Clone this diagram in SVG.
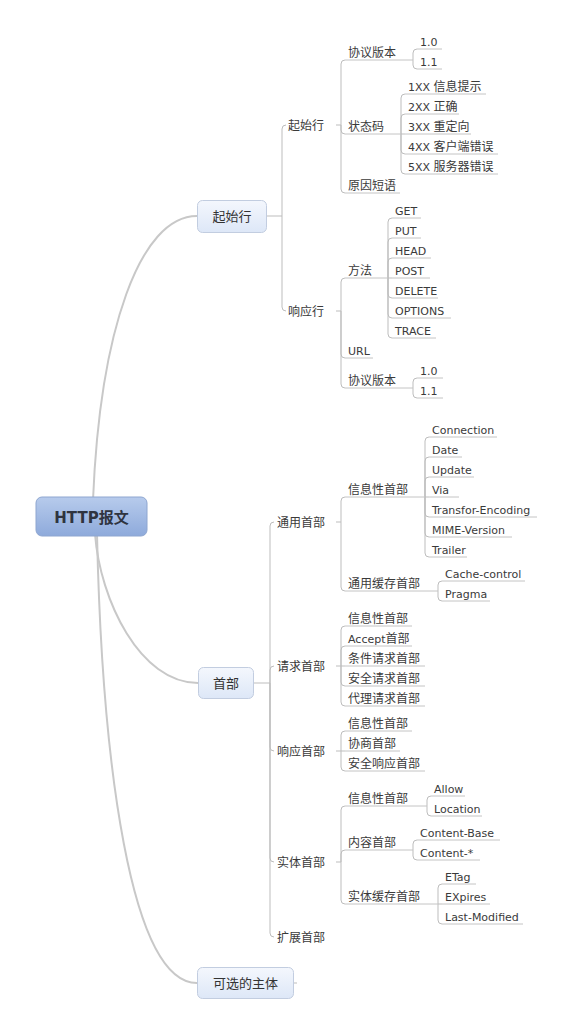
<svg xmlns="http://www.w3.org/2000/svg" width="571" height="1033" viewBox="0 0 571 1033">
<style>
text{font-family:"DejaVu Sans","Noto Sans CJK SC",sans-serif;fill:#3a3a3a}
.t{font-size:11px}
.c{font-size:12px}
.b{font-size:13px;text-anchor:middle;fill:#333}
.root{font-size:15px;font-weight:bold;text-anchor:middle;fill:#2f3440}
.main{fill:none;stroke:#c8c8c8;stroke-width:2}
.ln{fill:none;stroke:#bdbdbd;stroke-width:1}
.ul{fill:none;stroke:#c4c4c4;stroke-width:1}
.box{fill:url(#gb);stroke:#c2cde0;stroke-width:1}
</style>
<defs>
<linearGradient id="gr" x1="0" y1="0" x2="0" y2="1"><stop offset="0" stop-color="#b7cbec"/><stop offset="1" stop-color="#8eaadb"/></linearGradient>
<linearGradient id="gb" x1="0" y1="0" x2="0" y2="1"><stop offset="0" stop-color="#f4f7fd"/><stop offset="1" stop-color="#dde7f7"/></linearGradient>
</defs>
<rect width="571" height="1033" fill="#fff"/>
<g id="connectors">
<path class="main" d="M93 500 C100 330 140 216 197 216"/>
<path class="main" d="M95 534 C100 600 140 683 198 683"/>
<path class="main" d="M97 534 C102 760 130 983 197 983"/>
<path class="ln" d="M267 216 H282 M282 216 V129 Q282 125 286 125 M282 216 V307 Q282 311 286 311"/>
<path class="ln" d="M254 683 H270 M270 683 V526 Q270 522 274 522 M270 683 V670 Q270 666 274 666 M270 683 V747 Q270 751 274 751 M270 683 V858 Q270 862 274 862 M270 683 V933 Q270 937 274 937"/>
<path class="ln" d="M294 983 H297"/>
<path class="ln" d="M336 125 H341 M336 311 H341 M336 522 H341 M336 666 H341 M336 751 H341 M336 862 H341"/>
<path class="ln" d="M341 125 V64 Q341 60 345 60 M341 125 V130 Q341 134 345 134 M341 125 V189 Q341 193 345 193"/>
<path class="ln" d="M413 60 V53 Q413 49 417 49 M413 60 V65 Q413 69 417 69"/>
<path class="ln" d="M401 134 V98 Q401 94 405 94 M401 134 V118 Q401 114 405 114 M401 134 H405 M401 134 V150 Q401 154 405 154 M401 134 V170 Q401 174 405 174"/>
<path class="ln" d="M341 311 V282 Q341 278 345 278 M341 311 V354 Q341 358 345 358 M341 311 V384 Q341 388 345 388"/>
<path class="ln" d="M388 278 V222 Q388 218 392 218 M388 278 V242 Q388 238 392 238 M388 278 V262 Q388 258 392 258 M388 278 H392 M388 278 V294 Q388 298 392 298 M388 278 V314 Q388 318 392 318 M388 278 V334 Q388 338 392 338"/>
<path class="ln" d="M413 388 V382 Q413 378 417 378 M413 388 V394 Q413 398 417 398"/>
<path class="ln" d="M341 522 V501 Q341 497 345 497 M341 522 V587 Q341 591 345 591"/>
<path class="ln" d="M425 497 V441 Q425 437 429 437 M425 497 V461 Q425 457 429 457 M425 497 V481 Q425 477 429 477 M425 497 H429 M425 497 V513 Q425 517 429 517 M425 497 V533 Q425 537 429 537 M425 497 V553 Q425 557 429 557"/>
<path class="ln" d="M438 591 V585 Q438 581 442 581 M438 591 V597 Q438 601 442 601"/>
<path class="ln" d="M341 666 V630 Q341 626 345 626 M341 666 V650 Q341 646 345 646 M341 666 H345 M341 666 V682 Q341 686 345 686 M341 666 V702 Q341 706 345 706"/>
<path class="ln" d="M341 751 V735 Q341 731 345 731 M341 751 H345 M341 751 V767 Q341 771 345 771"/>
<path class="ln" d="M341 862 V810 Q341 806 345 806 M341 862 V854 Q341 850 345 850 M341 862 V900 Q341 904 345 904"/>
<path class="ln" d="M427 806 V800 Q427 796 431 796 M427 806 V812 Q427 816 431 816"/>
<path class="ln" d="M413 850 V844 Q413 840 417 840 M413 850 V856 Q413 860 417 860"/>
<path class="ln" d="M438 904 V888 Q438 884 442 884 M438 904 H442 M438 904 V920 Q438 924 442 924"/>
</g>
<g id="root"><rect x="36" y="497" width="111" height="39" rx="6" fill="url(#gr)" stroke="#8ea6d0"/><text class="root" x="91.5" y="522.5">HTTP报文</text></g>
<g id="n-qsh"><rect class="box" x="197.5" y="200.5" width="69" height="32" rx="5"/><text class="b" x="232" y="220.5">起始行</text></g>
<g id="n-sb"><rect class="box" x="198.5" y="667.5" width="55" height="31" rx="5"/><text class="b" x="226" y="687.5">首部</text></g>
<g id="n-kxzt"><rect class="box" x="197.5" y="967.5" width="96" height="31" rx="5"/><text class="b" x="245.5" y="987.5">可选的主体</text></g>

<g id="n-qsh2"><text class="c" x="288" y="129.5">起始行</text></g>
<g id="n-xyh"><text class="c" x="288" y="315.5">响应行</text></g>

<g id="n-xybb1"><path class="ul" d="M345 60 H413"/><text class="c" x="348" y="57">协议版本</text></g>
<g id="n-v10a"><path class="ul" d="M417 49 H442"/><text class="t" x="420" y="46">1.0</text></g>
<g id="n-v11a"><path class="ul" d="M417 69 H442"/><text class="t" x="420" y="66">1.1</text></g>
<g id="n-ztm"><path class="ul" d="M345 134 H401"/><text class="c" x="348" y="131">状态码</text></g>
<g id="n-1xx"><path class="ul" d="M405 94 H486"/><text class="t" x="408" y="91">1XX <tspan class="c">信息提示</tspan></text></g>
<g id="n-2xx"><path class="ul" d="M405 114 H459"/><text class="t" x="408" y="111">2XX <tspan class="c">正确</tspan></text></g>
<g id="n-3xx"><path class="ul" d="M405 134 H471"/><text class="t" x="408" y="131">3XX <tspan class="c">重定向</tspan></text></g>
<g id="n-4xx"><path class="ul" d="M405 154 H498"/><text class="t" x="408" y="151">4XX <tspan class="c">客户端错误</tspan></text></g>
<g id="n-5xx"><path class="ul" d="M405 174 H498"/><text class="t" x="408" y="171">5XX <tspan class="c">服务器错误</tspan></text></g>
<g id="n-yydy"><path class="ul" d="M345 193 H400"/><text class="c" x="348" y="190">原因短语</text></g>

<g id="n-ff"><path class="ul" d="M345 278 H388"/><text class="c" x="348" y="275">方法</text></g>
<g id="n-get"><path class="ul" d="M392 218 H421"/><text class="t" x="395" y="215">GET</text></g>
<g id="n-put"><path class="ul" d="M392 238 H421"/><text class="t" x="395" y="235">PUT</text></g>
<g id="n-head"><path class="ul" d="M392 258 H431"/><text class="t" x="395" y="255">HEAD</text></g>
<g id="n-post"><path class="ul" d="M392 278 H430"/><text class="t" x="395" y="275">POST</text></g>
<g id="n-delete"><path class="ul" d="M392 298 H438"/><text class="t" x="395" y="295">DELETE</text></g>
<g id="n-options"><path class="ul" d="M392 318 H451"/><text class="t" x="395" y="315">OPTIONS</text></g>
<g id="n-trace"><path class="ul" d="M392 338 H436"/><text class="t" x="395" y="335">TRACE</text></g>
<g id="n-url"><path class="ul" d="M345 358 H373"/><text class="t" x="348" y="355">URL</text></g>
<g id="n-xybb2"><path class="ul" d="M345 388 H413"/><text class="c" x="348" y="385">协议版本</text></g>
<g id="n-v10b"><path class="ul" d="M417 378 H443"/><text class="t" x="420" y="375">1.0</text></g>
<g id="n-v11b"><path class="ul" d="M417 398 H443"/><text class="t" x="420" y="395">1.1</text></g>

<g id="n-tysb"><text class="c" x="277" y="526.5">通用首部</text></g>
<g id="n-xxx1"><path class="ul" d="M345 497 H425"/><text class="c" x="348" y="494">信息性首部</text></g>
<g id="n-connection"><path class="ul" d="M429 437 H497"/><text class="t" x="432" y="434">Connection</text></g>
<g id="n-date"><path class="ul" d="M429 457 H462"/><text class="t" x="432" y="454">Date</text></g>
<g id="n-update"><path class="ul" d="M429 477 H474"/><text class="t" x="432" y="474">Update</text></g>
<g id="n-via"><path class="ul" d="M429 497 H459"/><text class="t" x="432" y="494">Via</text></g>
<g id="n-te"><path class="ul" d="M429 517 H537"/><text class="t" x="432" y="514">Transfor-Encoding</text></g>
<g id="n-mime"><path class="ul" d="M429 537 H512"/><text class="t" x="432" y="534">MIME-Version</text></g>
<g id="n-trailer"><path class="ul" d="M429 557 H467"/><text class="t" x="432" y="554">Trailer</text></g>
<g id="n-tyhc"><path class="ul" d="M345 591 H438"/><text class="c" x="348" y="588">通用缓存首部</text></g>
<g id="n-cc"><path class="ul" d="M442 581 H525"/><text class="t" x="445" y="578">Cache-control</text></g>
<g id="n-pragma"><path class="ul" d="M442 601 H490"/><text class="t" x="445" y="598">Pragma</text></g>

<g id="n-qqsb"><text class="c" x="277" y="670.5">请求首部</text></g>
<g id="n-xxx2"><path class="ul" d="M345 626 H412"/><text class="c" x="348" y="623">信息性首部</text></g>
<g id="n-accept"><path class="ul" d="M345 646 H412"/><text class="t" x="348" y="643">Accept<tspan class="c">首部</tspan></text></g>
<g id="n-tjqq"><path class="ul" d="M345 666 H425"/><text class="c" x="348" y="663">条件请求首部</text></g>
<g id="n-aqqq"><path class="ul" d="M345 686 H425"/><text class="c" x="348" y="683">安全请求首部</text></g>
<g id="n-dlqq"><path class="ul" d="M345 706 H425"/><text class="c" x="348" y="703">代理请求首部</text></g>

<g id="n-xysb"><text class="c" x="277" y="755.5">响应首部</text></g>
<g id="n-xxx3"><path class="ul" d="M345 731 H412"/><text class="c" x="348" y="728">信息性首部</text></g>
<g id="n-xssb"><path class="ul" d="M345 751 H400"/><text class="c" x="348" y="748">协商首部</text></g>
<g id="n-aqxy"><path class="ul" d="M345 771 H425"/><text class="c" x="348" y="768">安全响应首部</text></g>

<g id="n-stsb"><text class="c" x="277" y="866.5">实体首部</text></g>
<g id="n-xxx4"><path class="ul" d="M345 806 H427"/><text class="c" x="348" y="803">信息性首部</text></g>
<g id="n-allow"><path class="ul" d="M431 796 H465"/><text class="t" x="434" y="793">Allow</text></g>
<g id="n-location"><path class="ul" d="M431 816 H482"/><text class="t" x="434" y="813">Location</text></g>
<g id="n-nrsb"><path class="ul" d="M345 850 H413"/><text class="c" x="348" y="847">内容首部</text></g>
<g id="n-cbase"><path class="ul" d="M417 840 H500"/><text class="t" x="420" y="837">Content-Base</text></g>
<g id="n-cstar"><path class="ul" d="M417 860 H480"/><text class="t" x="420" y="857">Content-*</text></g>
<g id="n-sthc"><path class="ul" d="M345 904 H438"/><text class="c" x="348" y="901">实体缓存首部</text></g>
<g id="n-etag"><path class="ul" d="M442 884 H476"/><text class="t" x="445" y="881">ETag</text></g>
<g id="n-expires"><path class="ul" d="M442 904 H490"/><text class="t" x="445" y="901">EXpires</text></g>
<g id="n-lm"><path class="ul" d="M442 924 H523"/><text class="t" x="445" y="921">Last-Modified</text></g>
<g id="n-kzsb"><text class="c" x="277" y="941.5">扩展首部</text></g>
</svg>
